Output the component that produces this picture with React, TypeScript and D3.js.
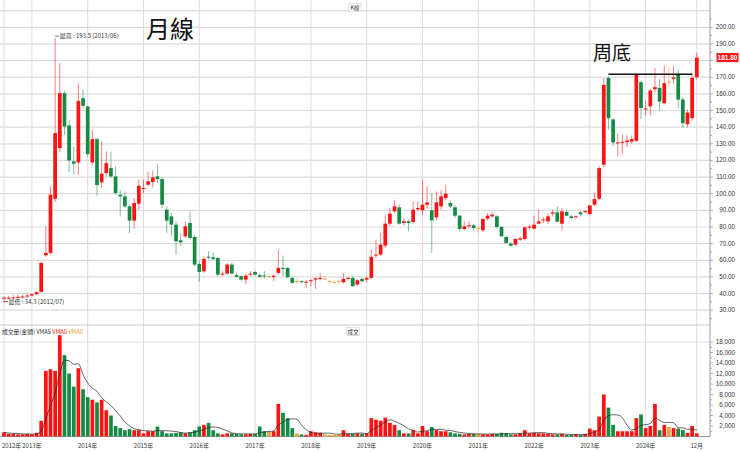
import React from 'react';
import * as d3 from 'd3';

const START_YEAR = 2012;
const START_MONTH = 7;

const open = [
  37.0, 37.2, 37.5, 37.6, 38.0, 38.2, 38.8, 39.6, 41.0, 63.0, 64.4, 97.0,
  127.4, 160.4, 141.0, 119.4, 118.8, 157.4, 152.4, 118.8, 132.8, 106.8, 112.4, 115.4,
  110.4, 99.4, 98.4, 92.4, 83.8, 94.0, 102.8, 105.4, 107.0, 110.4, 108.8, 90.4,
  86.4, 81.4, 72.0, 74.4, 82.4, 74.0, 57.8, 53.4, 62.2, 61.8, 61.4, 51.4,
  52.0, 57.4, 51.0, 50.4, 48.4, 51.4, 53.0, 51.0, 50.9, 50.5, 50.0, 52.4,
  55.4, 55.4, 49.4, 47.5, 47.4, 46.9, 47.4, 48.4, 48.8, 49.0, 47.4, 47.0,
  47.3, 46.8, 49.0, 49.4, 45.4, 48.8, 48.4, 49.4, 62.8, 63.4, 68.8, 82.0,
  89.4, 91.8, 82.4, 83.4, 83.0, 90.6, 90.0, 93.4, 90.0, 85.8, 92.4, 97.4,
  94.4, 91.8, 86.8, 78.8, 80.4, 81.0, 79.4, 78.0, 85.0, 86.4, 86.4, 80.0,
  74.0, 70.0, 69.4, 72.4, 72.8, 79.6, 79.0, 82.0, 84.0, 83.4, 88.0, 88.8,
  82.0, 89.0, 86.4, 86.0, 88.8, 89.0, 87.8, 93.4, 97.0, 117.4, 169.6, 144.6,
  130.2, 130.8, 131.0, 131.3, 131.8, 167.0, 150.6, 152.5, 162.8, 163.6, 154.4, 167.4,
  169.0, 172.0, 156.6, 141.8, 145.4, 170.0,
];
const high = [
  38.5, 38.6, 39.0, 39.2, 39.4, 40.0, 40.2, 41.5, 59.2, 80.4, 104.4, 193.5,
  178.4, 161.5, 144.0, 128.4, 166.4, 162.4, 153.0, 138.4, 133.4, 131.4, 125.4, 125.4,
  116.4, 102.4, 101.4, 93.4, 97.4, 108.4, 108.4, 113.4, 114.0, 118.0, 110.0, 92.4,
  88.4, 83.4, 76.4, 83.4, 89.4, 75.4, 59.4, 62.4, 65.4, 64.4, 62.0, 53.4,
  58.4, 58.4, 52.4, 51.0, 51.4, 53.4, 53.4, 52.4, 53.4, 51.8, 51.2, 66.4,
  62.8, 56.0, 50.4, 48.6, 48.0, 48.2, 48.6, 49.8, 52.4, 50.4, 48.4, 48.0,
  48.4, 52.4, 50.4, 50.4, 48.6, 49.6, 50.2, 66.4, 72.4, 76.4, 87.4, 91.4,
  96.4, 93.4, 85.4, 84.4, 95.4, 95.4, 108.4, 104.4, 100.4, 101.4, 102.0, 105.4,
  96.0, 93.0, 87.4, 83.4, 83.4, 82.0, 80.6, 85.4, 88.4, 88.8, 87.0, 80.6,
  75.0, 71.0, 73.4, 74.4, 80.4, 81.4, 86.8, 90.4, 86.0, 88.4, 90.4, 92.4,
  91.4, 90.0, 87.4, 87.0, 89.6, 90.0, 93.0, 100.4, 116.6, 169.4, 170.5, 145.5,
  136.5, 135.5, 135.0, 135.0, 172.4, 168.0, 156.0, 163.0, 175.5, 169.0, 177.0, 176.0,
  176.6, 174.5, 158.0, 150.5, 172.4, 184.8,
];
const low = [
  34.3, 36.5, 36.8, 37.0, 37.2, 37.5, 38.2, 39.2, 40.6, 62.0, 63.5, 95.0,
  125.0, 135.4, 113.0, 111.4, 111.4, 151.4, 122.4, 117.4, 98.8, 103.4, 110.4, 109.4,
  99.4, 86.4, 91.4, 76.4, 78.8, 90.4, 100.4, 104.4, 103.8, 106.4, 91.4, 76.4,
  74.4, 63.4, 68.4, 73.4, 72.4, 56.4, 47.0, 52.4, 60.4, 60.0, 50.4, 50.6,
  51.4, 51.6, 49.6, 47.8, 45.8, 50.6, 50.8, 49.6, 48.8, 49.2, 47.4, 51.4,
  50.4, 49.4, 46.0, 46.0, 46.2, 43.4, 44.4, 42.8, 48.0, 48.0, 46.6, 46.2,
  46.6, 46.0, 48.0, 44.0, 44.4, 46.6, 46.8, 48.8, 61.4, 62.4, 67.4, 80.4,
  88.4, 81.4, 81.0, 77.4, 82.0, 89.4, 87.4, 91.0, 64.4, 84.0, 90.4, 96.0,
  91.4, 85.4, 77.4, 78.0, 79.4, 77.4, 76.4, 77.0, 84.0, 85.4, 79.0, 74.0,
  70.0, 68.0, 68.6, 71.6, 72.0, 78.4, 78.4, 82.4, 82.4, 82.0, 86.4, 83.0,
  78.0, 86.4, 84.8, 85.0, 86.4, 88.0, 87.0, 92.6, 96.0, 116.0, 138.5, 128.4,
  122.5, 124.0, 128.0, 130.0, 131.0, 145.0, 146.8, 147.0, 161.0, 150.0, 153.6, 164.0,
  166.0, 151.4, 139.6, 139.8, 144.0, 168.6,
];
const close = [
  37.6, 37.5, 37.7, 38.0, 38.2, 38.8, 39.6, 40.8, 58.4, 64.4, 99.4, 136.4,
  160.4, 140.4, 120.0, 118.0, 155.8, 152.8, 123.8, 132.8, 105.2, 112.0, 118.4, 110.4,
  100.4, 98.4, 92.4, 83.8, 94.4, 104.8, 103.4, 107.4, 109.8, 108.8, 93.4, 83.8,
  81.4, 71.4, 70.8, 80.4, 73.4, 57.4, 53.0, 60.8, 61.8, 60.8, 51.4, 52.0,
  57.4, 52.0, 50.0, 48.4, 50.8, 52.0, 51.4, 50.0, 50.7, 50.5, 50.8, 55.4,
  54.8, 49.8, 46.4, 47.5, 46.8, 47.1, 48.0, 49.2, 49.4, 49.0, 47.4, 47.0,
  47.3, 48.8, 49.4, 44.4, 48.0, 47.4, 49.4, 62.0, 63.4, 69.4, 82.0, 88.0,
  92.4, 82.0, 83.4, 82.4, 90.4, 91.4, 93.4, 94.8, 84.0, 94.8, 98.4, 100.0,
  92.4, 86.8, 78.8, 80.4, 81.0, 79.4, 79.4, 84.8, 86.8, 87.4, 80.0, 74.4,
  70.4, 68.8, 72.8, 73.2, 79.8, 80.2, 81.4, 83.4, 84.6, 86.4, 88.8, 83.2,
  89.4, 86.8, 85.4, 86.4, 87.6, 89.6, 93.0, 96.8, 115.4, 165.4, 145.4, 130.8,
  130.8, 131.2, 132.0, 132.8, 171.8, 151.5, 151.2, 162.0, 164.0, 155.4, 166.4, 167.4,
  169.8, 156.6, 142.4, 148.8, 169.6, 181.8,
];
const volume = [
  800, 500, 500, 400, 400, 500, 400, 700, 3000, 12500, 12800, 12500,
  19300, 15500, 12000, 9500, 13000, 9000, 7500, 7000, 6500, 7000, 5000, 4000,
  2000, 1600, 1200, 1400, 1200, 1200, 600, 1000, 1000, 1900, 1000, 600,
  600, 700, 800, 600, 800, 1200, 1900, 2200, 2600, 1200, 600, 400,
  600, 600, 500, 400, 400, 500, 500, 1900, 1000, 900, 1000, 6200,
  4500, 3500, 1600, 600, 400, 300, 1000, 800, 700, 400, 300, 300,
  400, 1200, 500, 500, 600, 500, 600, 3500, 3200, 3000, 3600, 2600,
  2200, 1200, 600, 600, 1200, 600, 2000, 1000, 1800, 1200, 1000, 1000,
  800, 600, 500, 400, 500, 500, 500, 400, 400, 500, 500, 700,
  600, 400, 400, 600, 1200, 600, 700, 600, 600, 500, 400, 400,
  500, 300, 300, 400, 300, 500, 1500, 1200, 3800, 8000, 5500, 2200,
  1000, 1000, 1000, 1000, 3500, 4200, 1600, 2000, 6200, 1200, 2200, 1800,
  1600, 1500, 1200, 700, 2000, 600,
];

const priceTicks = [30, 40, 50, 60, 70, 80, 90, 100, 110, 120, 130, 140, 150, 160, 170, 180, 190, 200];
const priceGrid = [30, 40, 50, 60, 70, 80, 90, 100, 110, 120, 130, 140, 150, 160, 170, 180, 190, 200, 210];
const volTicks = [2000, 4000, 6000, 8000, 10000, 12000, 14000, 16000, 18000];
const yearLabels = ['2013年', '2014年', '2015年', '2016年', '2017年', '2018年', '2019年', '2020年', '2021年', '2022年', '2023年', '2024年'];
const firstLabel = '2012年';
const lastLabel = '12月';
const lastPrice = '181.80';
const highNote = '最高 : 193.5 (2013/06)';
const lowNote = '最低 : 34.3 (2012/07)';
const titleText = '月線';
const noteText = '周底';
const neckFrom = 130;
const neckTo = 148;
const neckValue = 171.8;

const RED = '#ff1212';
const GREEN = '#148a45';
const ORANGE = '#f0a030';
const GRID = '#dcdcdc';
const FONT = '"Liberation Sans Narrow", "Liberation Sans", Arial, sans-serif';
const CJK = '"Noto Sans CJK TC", "Noto Sans CJK SC", sans-serif';

const months = open.map((_, i) => {
  const m = START_MONTH - 1 + i;
  return `${START_YEAR + Math.floor(m / 12)}/${String((m % 12) + 1).padStart(2, '0')}`;
});

export default function App() {
  const W = 740;
  const H = 452;
  const axisX = 710;
  const x = d3.scalePoint<string>().domain(months).range([4, 696.8]);
  const y = d3.scaleLinear().domain([30, 200]).range([310.2, 27.3]);
  const yv = d3.scaleLinear().domain([0, 18000]).range([436.5, 342]);
  const bw = 3.7;

  const colorOf = (i: number) =>
    close[i] > open[i] ? RED : close[i] < open[i] ? GREEN : ORANGE;

  const ma5 = volume.map((_, i) => d3.mean(volume.slice(Math.max(0, i - 4), i + 1)) as number);
  const maLine = d3
    .line<number>()
    .x((_, i) => x(months[i]) as number)
    .y((d) => yv(d))
    .curve(d3.curveMonotoneX)(ma5);

  const yearIdx = yearLabels.map((_, k) => 6 + 12 * k);
  const gridXs = [0, ...yearIdx, months.length - 1].map((i) => x(months[i]) as number);

  const minorPrice = d3.range(25, 206, 5);
  const hiIdx = high.indexOf(d3.max(high) as number);
  const loIdx = low.indexOf(d3.min(low) as number);
  const lastClose = close[close.length - 1];
  const tagY = y(lastClose);

  return (
    <svg width={W} height={H} style={{ position: 'absolute', left: 0, top: 0, background: '#fff' }}>
      <rect x={0} y={0} width={W} height={H} fill="#fff" />
      {gridXs.map((gx, k) => (
        <line key={'vg' + k} x1={gx} x2={gx} y1={0} y2={436.5} stroke={GRID} strokeWidth={1} />
      ))}
      {priceGrid.map((v) => (
        <line key={'hg' + v} x1={0} x2={axisX} y1={y(v)} y2={y(v)} stroke={GRID} strokeWidth={1.2} />
      ))}
      <line x1={0} x2={axisX} y1={325} y2={325} stroke="#c8c8c8" strokeWidth={1} />
      <line x1={0} x2={axisX} y1={yv(18000)} y2={yv(18000)} stroke={GRID} strokeWidth={1} />
      <line x1={axisX} x2={axisX} y1={0} y2={436.5} stroke="#9a9a9a" strokeWidth={1} />
      <line x1={0} x2={axisX} y1={436.5} y2={436.5} stroke="#9a9a9a" strokeWidth={1} />

      {minorPrice.map((v) => (
        <line key={'mt' + v} x1={axisX} x2={axisX + (v % 10 === 0 ? 3 : 2)} y1={y(v)} y2={y(v)} stroke="#999" strokeWidth={0.8} />
      ))}
      {priceTicks
        .filter((v) => Math.abs(y(v) - tagY) > 6)
        .map((v) => (
          <text key={'pl' + v} x={735} y={y(v) + 2} textAnchor="end" fontSize={6.3} fontFamily={FONT} fill="#333">
            {v.toFixed(2)}
          </text>
        ))}
      {volTicks.map((v) => (
        <g key={'vl' + v}>
          <line x1={axisX} x2={axisX + 3} y1={yv(v)} y2={yv(v)} stroke="#999" strokeWidth={0.8} />
          <line x1={axisX} x2={axisX + 2} y1={yv(v - 1000)} y2={yv(v - 1000)} stroke="#999" strokeWidth={0.8} />
          <text x={735} y={yv(v) + 2} textAnchor="end" fontSize={6.3} fontFamily={FONT} fill="#333">
            {d3.format(',')(v)}
          </text>
        </g>
      ))}

      {months.map((m, i) => {
        const cx = x(m) as number;
        const c = colorOf(i);
        const top = y(Math.max(open[i], close[i]));
        const bot = y(Math.min(open[i], close[i]));
        return (
          <g key={'c' + m}>
            <line x1={cx} x2={cx} y1={y(high[i])} y2={y(low[i])} stroke={c} strokeOpacity={0.55} strokeWidth={1} />
            <rect x={cx - bw / 2} y={top} width={bw} height={Math.max(1, bot - top)} fill={c} />
          </g>
        );
      })}

      {months.map((m, i) => {
        const cx = x(m) as number;
        return (
          <rect key={'v' + m} x={cx - bw / 2} y={yv(volume[i])} width={bw} height={yv(0) - yv(volume[i])} fill={colorOf(i)} />
        );
      })}
      {maLine && <path d={maLine} fill="none" stroke="#222" strokeWidth={0.7} />}

      <line x1={x(months[hiIdx]) as number} x2={(x(months[hiIdx]) as number) + 4} y1={y(high[hiIdx]) - 2} y2={y(high[hiIdx]) - 2} stroke="#333" strokeWidth={0.7} />
      <text x={(x(months[hiIdx]) as number) + 4.5} y={y(high[hiIdx])} fontSize={6} fontFamily={CJK} fill="#333">
        {highNote}
      </text>
      <line x1={x(months[loIdx]) as number} x2={(x(months[loIdx]) as number) + 4} y1={y(low[loIdx]) - 1.5} y2={y(low[loIdx]) - 1.5} stroke="#333" strokeWidth={0.7} />
      <text x={(x(months[loIdx]) as number) + 4.5} y={y(low[loIdx]) + 0.5} fontSize={6} fontFamily={CJK} fill="#333">
        {lowNote}
      </text>

      <line x1={x(months[neckFrom]) as number} x2={x(months[neckTo]) as number} y1={y(neckValue)} y2={y(neckValue)} stroke="#111" strokeWidth={1.3} />
      <text x={593} y={60} fontSize={19} fontFamily={CJK} fill="#111">
        {noteText}
      </text>
      <text x={146} y={38} fontSize={24} fontFamily={CJK} fill="#111">
        {titleText}
      </text>

      <rect x={716.5} y={tagY - 4.5} width={22} height={9} fill={RED} />
      <text x={727.5} y={tagY + 2.3} textAnchor="middle" fontSize={6.5} fontWeight="bold" fontFamily={FONT} fill="#fff">
        {lastPrice}
      </text>

      <rect x={349} y={3.5} width={12} height={8} fill="#fff" stroke="#ccc" strokeWidth={0.6} />
      <text x={355} y={9.8} textAnchor="middle" fontSize={5.5} fontFamily={CJK} fill="#333">K線</text>
      <rect x={346.5} y={327.5} width={13} height={8} fill="#fff" stroke="#ccc" strokeWidth={0.6} />
      <text x={353} y={333.8} textAnchor="middle" fontSize={5.5} fontFamily={CJK} fill="#333">成交</text>
      <text x={2} y={333.5} fontSize={5.8} fontFamily={CJK}>
        <tspan fill="#333">成交量(金額) VMA5 </tspan>
        <tspan fill={RED}>VMA0 </tspan>
        <tspan fill={ORANGE}>VMA0</tspan>
      </text>

      <text x={2} y={448} fontSize={6} fontFamily={CJK} fill="#333">{firstLabel}</text>
      {yearLabels.map((t, k) => (
        <text key={'yl' + t} x={x(months[yearIdx[k]]) as number} y={448} textAnchor="middle" fontSize={6} fontFamily={CJK} fill="#333">
          {t}
        </text>
      ))}
      <text x={x(months[months.length - 1]) as number} y={448} textAnchor="middle" fontSize={6} fontFamily={CJK} fill="#333">
        {lastLabel}
      </text>
    </svg>
  );
}
